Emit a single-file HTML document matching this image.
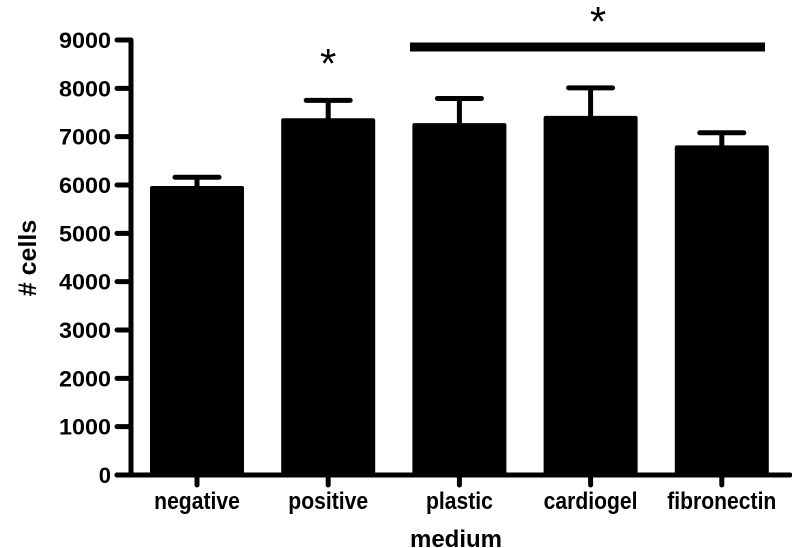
<!DOCTYPE html>
<html><head><meta charset="utf-8"><style>
html,body{margin:0;padding:0;background:#fff;}
svg{display:block;font-family:"Liberation Sans",Arial,sans-serif;font-weight:bold;}
</style></head><body>
<svg id="chart" width="792" height="548"></svg>
<script>
const categories=["negative","positive","plastic","cardiogel","fibronectin"];
const means=[5980,7380,7280,7430,6820];
const errors=[180,370,510,580,260];
const yTicks=[0,1000,2000,3000,4000,5000,6000,7000,8000,9000];
const NS="http://www.w3.org/2000/svg";
const svg=document.getElementById("chart");
const x0=131,y0=475,yTop=40,yMax=9000;
const y=v=>y0-(v/yMax)*(y0-yTop);
const xc=i=>197+i*131.2;
const bw=94;
function mk(t,a){const e=document.createElementNS(NS,t);for(const k in a)e.setAttribute(k,a[k]);svg.appendChild(e);return e;}
yTicks.forEach(v=>{
 const t=mk("line",{x1:117,x2:x0,y1:y(v),y2:y(v),stroke:"#000","stroke-width":5,"stroke-linecap":"round"});
 
 
 const l=mk("text",{x:111,y:y(v)+8,"text-anchor":"end","font-size":22,textLength:52,lengthAdjust:"spacingAndGlyphs"});
 l.textContent=v;
 if(v===0){l.removeAttribute("textLength");l.removeAttribute("lengthAdjust");}
 
 
});
categories.forEach((c,i)=>{
 const cx=xc(i);
 const b=mk("rect",{x:cx-bw/2,y:y(means[i]),width:bw,height:y0-y(means[i]),fill:"#000",rx:2});
 
 
 const e=mk("path",{d:`M${cx},${y(means[i])}V${y(means[i]+errors[i])}M${cx-22},${y(means[i]+errors[i])}H${cx+22}`,stroke:"#000","stroke-width":5,fill:"none","stroke-linecap":"round"});
 
 
 const t=mk("line",{x1:cx,x2:cx,y1:y0,y2:y0+10,stroke:"#000","stroke-width":5,"stroke-linecap":"round"});
 
 
 const l=mk("text",{x:cx,y:509,"text-anchor":"middle","font-size":24,"transform":`translate(${cx},0) scale(0.88,1) translate(${-cx},0)`});
 l.textContent=c;
 
 
});
const ya=mk("line",{x1:x0,x2:x0,y1:yTop,y2:y0,stroke:"#000","stroke-width":5});


const xa=mk("line",{x1:117,x2:790,y1:y0,y2:y0,stroke:"#000","stroke-width":5,"stroke-linecap":"round"});


const s1=mk("text",{x:xc(1),y:78,"text-anchor":"middle","font-size":42,"font-weight":"normal"});
s1.textContent="*";


const sl=mk("line",{x1:410,x2:765,y1:47,y2:47,stroke:"#000","stroke-width":9});


const s2=mk("text",{x:598,y:36,"text-anchor":"middle","font-size":42,"font-weight":"normal"});
s2.textContent="*";


const xt=mk("text",{x:456,y:547,"text-anchor":"middle","font-size":24});
xt.textContent="medium";


const yt=mk("text",{x:0,y:0,"text-anchor":"middle","font-size":25,transform:"translate(36,258) rotate(-90)"});
yt.textContent="# cells";


</script>
</body></html>
